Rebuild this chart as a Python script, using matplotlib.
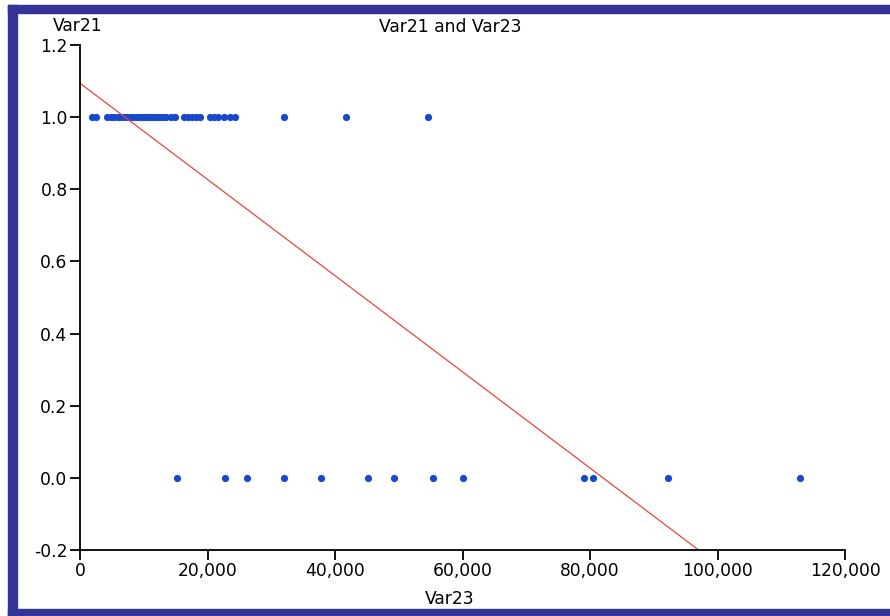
import numpy as np
import matplotlib
matplotlib.use("Agg")
import matplotlib.pyplot as plt
from matplotlib.patches import Rectangle
from matplotlib.ticker import FuncFormatter

# Var23 values for cases with Var21 = 1
var23_one = [1900, 2500, 4200, 4900, 5300, 6000, 6400, 6900, 7400, 7800,
             8300, 8800, 9300, 9700, 10200, 10700, 11100, 11600, 12100, 12500,
             13000, 13500, 14300, 14900, 16300, 16900, 17600, 18200, 18800,
             20400, 21000, 21600, 22600, 23500, 24300, 32000, 41800, 54600]
# Var23 values for cases with Var21 = 0
var23_zero = [15200, 22700, 26200, 32000, 37800, 45200, 49300, 55300, 60000,
              79100, 80400, 92300, 112900]

# fitted line
intercept = 1.094
slope = -1.3335e-5

x_ticks = [0, 20000, 40000, 60000, 80000, 100000, 120000]
y_ticks = [-0.2, 0.0, 0.2, 0.4, 0.6, 0.8, 1.0, 1.2]

fs = 12.3
fig = plt.figure(figsize=(8.9, 6.16), dpi=100)
ax = fig.add_axes([80/890, 66/616, 765/890, 505/616])

blue = "#1848cc"
ax.plot(var23_one, [1.0]*len(var23_one), "o", color=blue, ms=5.2, mew=0)
ax.plot(var23_zero, [0.0]*len(var23_zero), "o", color=blue, ms=5.2, mew=0)

xl = np.array([0, 120000])
ax.plot(xl, intercept + slope*xl, color="#e8463c", lw=0.9)

ax.set_xlim(0, 120000)
ax.set_ylim(-0.2, 1.2)
ax.set_xticks(x_ticks)
ax.set_yticks(y_ticks)
ax.xaxis.set_major_formatter(FuncFormatter(lambda v, p: f"{int(v):,}"))
ax.yaxis.set_major_formatter(FuncFormatter(lambda v, p: f"{v:.1f}"))
ax.tick_params(direction="out", length=7, width=1.3, labelsize=fs, pad=2)

for s in ["top", "right"]:
    ax.spines[s].set_visible(False)
for s in ["left", "bottom"]:
    ax.spines[s].set_linewidth(1.3)

fig.text(450/890, 1 - 27/616, "Var21 and Var23", ha="center", va="center", fontsize=fs)
fig.text(78/890, 1 - 26/616, "Var21", ha="center", va="center", fontsize=fs)
fig.text(450/890, 1 - 599/616, "Var23", ha="center", va="center", fontsize=fs)

# dark blue frame
frame = "#333399"
W, H = 890, 616
fig.patches.append(Rectangle((8/W, 0), 9/W, 1 - 5/H, transform=fig.transFigure, color=frame, zorder=10))
fig.patches.append(Rectangle((8/W, 1 - 13/H), 1 - 8/W, 8/H, transform=fig.transFigure, color=frame, zorder=10))
fig.patches.append(Rectangle((8/W, 0), 1 - 8/W, 7/H, transform=fig.transFigure, color=frame, zorder=10))

fig.savefig("out.png", dpi=100)
